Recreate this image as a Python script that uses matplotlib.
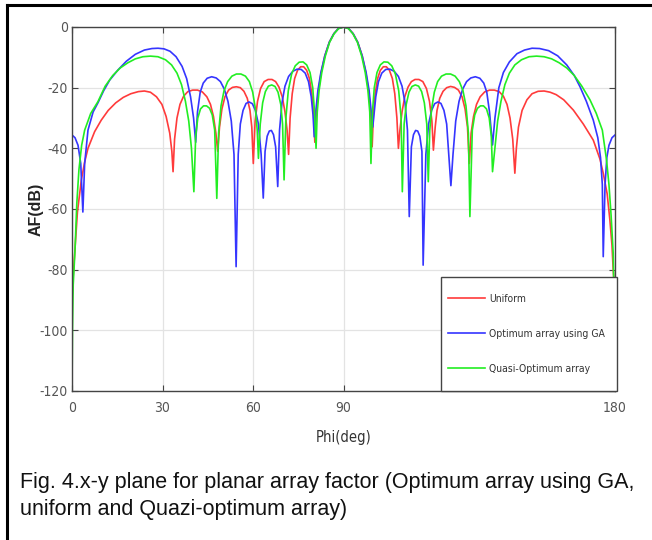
import matplotlib.pyplot as plt
from matplotlib.lines import Line2D
from matplotlib.patches import Rectangle

plt.rcParams['axes.unicode_minus'] = False

# Values (phi in degrees, AF in dB).
uniform_phi = [0, 0.4, 0.9, 1.8, 3.1, 4.2, 5.3, 7.5, 9.7, 12, 14.5, 17, 19.5, 22, 24, 26, 28,
               29.8, 31.2, 32.4, 33.1, 33.5,
               34, 34.8, 35.8, 37, 38.4, 40, 41.6, 43.2, 44.7, 45.9, 46.9, 47.7, 48.3,
               48.9, 49.7, 50.7, 51.9, 53.2, 54.5, 55.8, 57, 58.1, 59, 59.6, 60.1,
               60.7, 61.5, 62.5, 63.7, 65, 66.3, 67.5, 68.6, 69.7, 70.6, 71.3, 71.8,
               72.3, 73, 73.8, 74.8, 75.8, 76.8, 77.8, 78.7, 79.5, 80.1, 80.5,
               81, 81.7, 82.6, 83.8, 85.3, 86.8, 88.3, 90, 91.7, 93.2, 94.7, 96.2, 97.4, 98.3, 99, 99.5,
               99.9, 100.5, 101.3, 102.2, 103.2, 104.2, 105.2, 106.2, 107, 107.7, 108.2,
               108.7, 109.4, 110.3, 111.4, 112.5, 113.7, 115, 116.3, 117.5, 118.5, 119.3, 119.8,
               120.4, 121, 121.9, 123, 124.2, 125.5, 126.8, 128.1, 129.3, 130.3, 131.1, 131.7,
               132.3, 133.1, 134.1, 135.3, 136.8, 138.4, 140, 141.6, 143, 144.2, 145.2, 146.1, 146.8,
               147.3, 148, 149.2, 150.8, 152.5, 154.5, 156.5, 158.5, 160.5, 163, 166.2, 169.5,
               172.8, 175, 176.1, 177.4, 178.3, 179, 179.4, 180]
uniform_db = [-89, -82, -74.6, -61, -50.4, -44.5, -40, -34.5, -30.7, -27.5, -25, -23.2, -22, -21.3, -21.1, -21.5, -23,
              -25.5, -29.5, -35, -41, -47.7,
              -37, -30, -25.5, -22.8, -21.3, -20.8, -20.8, -21.4, -23, -25.5, -29.5, -35, -41,
              -33, -27, -23, -20.8, -19.9, -19.7, -20, -21.2, -23.5, -27.5, -33, -45,
              -31, -24.5, -20.3, -18, -17.3, -17.3, -18, -19.8, -23, -28, -34, -42,
              -30, -22, -17, -14.2, -13.1, -13.1, -14.3, -17, -22, -29, -38,
              -28, -21, -15, -9.5, -5, -2.2, -0.5, 0, -0.5, -2.2, -5, -9.5, -15, -21, -28, -39.5,
              -29, -22, -17, -14.3, -13.1, -13.1, -14.2, -17, -22, -30, -40,
              -34, -28, -23, -19.8, -18, -17.3, -17.3, -18, -20.3, -24.5, -31, -40.6,
              -33, -27.5, -23.5, -21.2, -20, -19.6, -19.9, -20.8, -23, -27, -33, -45,
              -35, -29.5, -25.5, -23, -21.4, -20.8, -20.8, -21.3, -22.8, -25.5, -30, -37, -48.2,
              -40, -33, -27.5, -24, -22, -21.2, -21.1, -21.5, -22.3, -24, -27.4, -32,
              -37.3, -43.5, -48.2, -55, -63.6, -72, -80, -89]

ga_phi = [0, 1, 2, 2.9, 3.6,
          4.2, 5.3, 7, 8.6, 10.5, 12.5, 15.2, 18, 21, 24, 26.5, 28.5, 30.5, 32.5, 34.5, 36.5, 38,
          39.3, 40.3, 41,
          41.6, 42.5, 43.5, 44.8, 46.3, 47.8, 49.2, 50.5, 51.7, 52.8, 53.7, 54.4,
          55.1, 55.8, 56.7, 57.7, 58.7, 59.8, 60.8, 61.8, 62.7, 63.4,
          64, 64.7, 65.4, 66.1, 66.8, 67.5, 68.2,
          68.8, 69.6, 70.6, 71.8, 73.2, 74.6, 76, 77.3, 78.4, 79.3, 79.9, 80.3,
          80.8, 81.5, 82.5, 83.8, 85.3, 86.8, 88.3, 90, 91.7, 93.2, 94.7, 96.2, 97.5, 98.5, 99.2, 99.7,
          100.1, 100.7, 101.6, 102.7, 104, 105.4, 106.8, 108.2, 109.4, 110.4, 111.2, 111.8,
          112.5, 113.2, 113.9, 114.6, 115.3, 116, 116.4,
          117.3, 118.2, 119.2, 120.2, 121.3, 122.3, 123.3, 124.2, 124.9, 125.6,
          126.3, 127.2, 128.3, 129.5, 130.8, 132.2, 133.7, 135.2, 136.5, 137.5, 138.4, 139.4,
          140.2, 141.5, 143, 145, 147.5, 150, 152.5, 155, 158, 161, 164, 166.5, 168.4, 170.5,
          172.8, 174.3, 175.2, 175.8, 176.1,
          176.7, 177.3, 178, 179, 180]
ga_db = [-35.6, -36.5, -39, -45, -61,
         -45, -34, -28, -25, -21, -17.5, -14.2, -11.3, -9, -7.6, -7.1, -7, -7.2, -8, -9.8, -13, -17,
         -23, -30, -38,
         -28, -21.5, -18.5, -16.9, -16.4, -16.8, -18, -20.5, -24.5, -31, -42, -79,
         -42, -32, -27.5, -25.2, -24.7, -25.3, -27.5, -32, -42, -56.4,
         -41, -36, -34.3, -34.1, -35.5, -39.5, -52.6,
         -34, -25, -19.5, -16.3, -14.6, -13.9, -14, -15.2, -18, -23, -29, -36.2,
         -28, -21, -15, -9.5, -5, -2.2, -0.5, 0, -0.5, -2.2, -5, -9.5, -15, -21, -28, -33,
         -29, -23, -18, -15.2, -14, -13.9, -14.6, -16.3, -19.5, -25, -34, -62.5,
         -39.5, -35.5, -34.1, -34.3, -36, -41, -78.5,
         -42, -32, -27.5, -25.3, -24.7, -25.2, -27.5, -32, -42, -52.3,
         -42, -31, -24.5, -20.5, -18, -16.8, -16.4, -16.9, -18.5, -21.5, -28, -38.9,
         -30, -20, -15, -11.5, -8.8, -7.6, -7, -7.1, -7.8, -9.5, -12.5, -16, -19.7, -24.5,
         -30.7, -36.5, -43, -52, -75.7,
         -52, -43, -39, -36.5, -35.6]

quasi_phi = [0, 0.15, 0.4, 1, 1.6, 2.3, 3.2, 4.2, 6.2, 8.6, 11, 13.5, 16, 18.5, 21, 23.5, 26, 28.5,
             31, 33, 34.8, 36.3, 37.6, 38.7, 39.6, 40.4,
             41, 41.7, 42.6, 43.6, 44.6, 45.6, 46.5, 47.3, 48,
             48.6, 49.4, 50.4, 51.6, 53, 54.5, 56, 57.5, 58.8, 59.9, 60.8, 61.4, 61.8,
             62.4, 63.2, 64.1, 65.1, 66.2, 67.3, 68.3, 69.2, 69.8, 70.3,
             70.9, 71.7, 72.8, 74, 75.3, 76.6, 77.8, 78.9, 79.8, 80.4, 80.9,
             81.3, 81.9, 82.8, 84, 85.4, 86.9, 88.4, 90, 91.6, 93.1, 94.6, 96, 97.2, 98.1, 98.7, 99.1,
             99.6, 100.2, 101.1, 102.2, 103.4, 104.7, 106, 107.2, 108.3, 109.1, 109.5,
             110.1, 110.8, 111.7, 112.7, 113.8, 114.9, 115.9, 116.8, 117.6, 118.1,
             118.6, 119.2, 120.1, 121.2, 122.5, 124, 125.5, 127, 128.4, 129.6, 130.6, 131.4, 131.9,
             132.7, 133.5, 134.4, 135.4, 136.4, 137.4, 138.3, 139, 139.4,
             140.2, 141.1, 142.2, 143.5, 145, 146.8, 149, 151.5, 154, 156.5, 159, 161.5, 164, 166.5,
             169, 171.7, 173.8, 175.8, 177.2, 178, 178.7, 179.4, 179.8, 180]
quasi_db = [-120, -100, -85, -73.5, -58, -47, -39, -34, -28.5, -24.6, -19.5, -16, -13.5, -11.8, -10.5, -9.8, -9.6, -9.8,
            -10.8, -12.5, -15.2, -19, -24.5, -31, -40, -54.3,
            -36, -30, -27, -26, -26, -26.8, -29, -34, -56.5,
            -35, -26, -21, -18, -16.2, -15.5, -15.5, -16.2, -18, -21.5, -27, -34, -43.3,
            -32, -25, -21.3, -19.5, -19.1, -19.6, -21.5, -25.5, -32, -50.4,
            -30, -21, -15.5, -12.8, -11.6, -11.5, -12.5, -15, -20, -28, -40,
            -28, -21, -15, -9.5, -5, -2.2, -0.5, 0, -0.5, -2.2, -5, -9.5, -15, -21, -28, -45,
            -28, -20, -15, -12.5, -11.5, -11.6, -12.8, -15.5, -21, -30, -54.3,
            -32, -25.5, -21.5, -19.6, -19.1, -19.5, -21.3, -25, -32, -51,
            -34, -27, -21.5, -18, -16.2, -15.5, -15.5, -16.2, -18, -21, -26, -35, -62.5,
            -34, -29, -26.8, -26, -26, -27, -30, -36, -47.7,
            -40, -31, -24.5, -19, -15.2, -12.5, -10.8, -9.8, -9.6, -9.8, -10.5, -11.8, -13.5, -16,
            -19.5, -24, -28.5, -34, -43.9, -52, -62, -74.5, -95, -120]

x_ticks = [0, 30, 60, 90, 180]
y_ticks = [0, -20, -40, -60, -80, -100, -120]
series_labels = ['Uniform', 'Optimum array using GA', 'Quasi-Optimum array']
caption = ('Fig. 4.x-y plane for planar array factor (Optimum array using GA,\n'
           'uniform and Quazi-optimum array)')

fig = plt.figure(figsize=(6.52, 5.40), dpi=100)
ax = fig.add_axes([72 / 652, 1 - 391 / 540, 543 / 652, 364 / 540])

ax.plot(uniform_phi, uniform_db, color='#ff3b3b', lw=1.2, label=series_labels[0])
ax.plot(ga_phi, ga_db, color='#3535ff', lw=1.2, label=series_labels[1])
ax.plot(quasi_phi, quasi_db, color='#22ee22', lw=1.2, label=series_labels[2])

ax.set_xlim(0, 180)
ax.set_ylim(-120, 0)
ax.set_xticks(x_ticks)
ax.set_yticks(y_ticks)
ax.grid(True, color='#e3e3e3', lw=0.9)
ax.set_axisbelow(True)
ax.tick_params(direction='in', length=4, width=0.8, color='#444444',
               top=True, right=True, labelsize=10, labelcolor='#555555')
ax.tick_params(axis='x', pad=7.5)
ax.tick_params(axis='y', pad=3)
for lab in ax.get_xticklabels() + ax.get_yticklabels():
    lab.set_family('DejaVu Sans')
    lab.set_stretch('condensed')
for sp in ax.spines.values():
    sp.set_color('#444444')
    sp.set_linewidth(1.0)

ax.set_xlabel('Phi(deg)', fontsize=10.5, color='#333333', stretch='condensed')
ax.xaxis.set_label_coords(0.5, -0.108)
ax.set_ylabel('AF(dB)', family='Liberation Sans', fontsize=11.5, fontweight='bold',
              color='#222222')
ax.yaxis.set_label_coords(-0.053, 0.5)

# legend box: white panel in the lower right corner, entries drawn on top
ax.add_patch(Rectangle((369 / 543, 0), 176 / 543, 114 / 364, transform=ax.transAxes,
                       facecolor='white', edgecolor='#444444', lw=1.0,
                       clip_on=False, zorder=4.5))
leg = ax.legend(loc='upper left', bbox_to_anchor=(376 / 543, 97 / 364), borderaxespad=0,
                frameon=False, borderpad=0,
                prop={'family': 'DejaVu Sans', 'stretch': 'condensed', 'size': 7.5},
                handlelength=3.55, handletextpad=0.4, labelspacing=2.4)
leg.set_zorder(5)
for t in leg.get_texts():
    t.set_color('#333333')

# black frame around the figure (left and top edges visible)
fig.add_artist(Line2D([7 / 652, 7 / 652], [0, 1 - 5 / 540], transform=fig.transFigure,
                      color='black', lw=2.2))
fig.add_artist(Line2D([7 / 652, 1], [1 - 5 / 540, 1 - 5 / 540], transform=fig.transFigure,
                      color='black', lw=2.2))

fig.text(20 / 652, 1 - 472 / 540, caption, fontsize=15.5, family='Liberation Sans',
         color='#111111', va='top', linespacing=1.36)

fig.savefig('out.png', dpi=100)
